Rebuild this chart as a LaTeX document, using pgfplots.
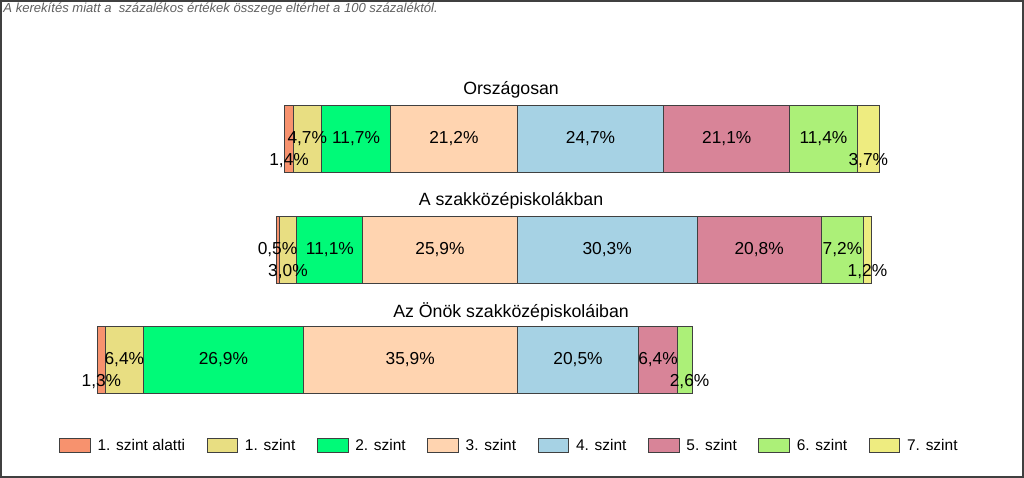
\documentclass[border=0pt]{standalone}
\usepackage{fontspec}
\setmainfont{Liberation Sans}
\usepackage{pgfplots}
\pgfplotsset{compat=1.18}

\definecolor{sz0}{RGB}{247,146,110}
\definecolor{sz1}{RGB}{232,222,130}
\definecolor{sz2}{RGB}{0,250,120}
\definecolor{sz3}{RGB}{255,212,176}
\definecolor{sz4}{RGB}{166,210,228}
\definecolor{sz5}{RGB}{216,132,152}
\definecolor{sz6}{RGB}{172,240,120}
\definecolor{sz7}{RGB}{238,236,128}
\definecolor{edge}{RGB}{64,64,64}
\definecolor{note}{RGB}{96,96,96}

% label positions (segment centres); the 3./4. szint border sits at x=80
\pgfplotstableread{
x y label
44.75 339 4,7
52.95 339 11,7
69.4 339 21,2
92.35 339 24,7
115.25 339 21,1
131.5 339 11,4
39.75 228 0,5
48.55 228 11,1
67.05 228 25,9
95.15 228 30,3
120.7 228 20,8
134.7 228 7,2
14.0 118 6,4
30.65 118 26,9
62.05 118 35,9
90.25 118 20,5
103.7 118 6,4
}\midlabels
\pgfplotstableread{
x y label
41.7 317 1,4
139.05 317 3,7
41.5 206 3,0
138.9 206 1,2
10.15 96 1,3
109.0 96 2,6
}\lowlabels

\pgfplotsset{
  base/.style={
    at={(0,0)}, anchor=south west,
    scale only axis, width=768pt, height=358.5pt,
    xmin=-6.89, xmax=165.21, ymin=0, ymax=478,
    hide axis, clip=false,
  },
}

\begin{document}
\begin{tikzpicture}[x=1pt,y=1pt]
\useasboundingbox (0,0) rectangle (768,358.5);
\begin{axis}[
  base,
  xbar stacked, bar width=50.25pt,
  every axis plot/.append style={draw=edge, line width=0.75pt},
]
% invisible offset: 80 minus the share below 4. szint
\addplot[draw=none, fill=none] coordinates {(41.0,339) (39.5,228) (9.5,118)};
\addplot[fill=sz0] coordinates {(1.4,339) (0.5,228) (1.3,118)};
\addplot[fill=sz1] coordinates {(4.7,339) (3.0,228) (6.4,118)};
\addplot[fill=sz2] coordinates {(11.7,339) (11.1,228) (26.9,118)};
\addplot[fill=sz3] coordinates {(21.2,339) (25.9,228) (35.9,118)};
\addplot[fill=sz4] coordinates {(24.7,339) (30.3,228) (20.5,118)};
\addplot[fill=sz5] coordinates {(21.1,339) (20.8,228) (6.4,118)};
\addplot[fill=sz6] coordinates {(11.4,339) (7.2,228) (2.6,118)};
\addplot[fill=sz7] coordinates {(3.7,339) (1.2,228) (0,118)};
\end{axis}

\begin{axis}[base,
  nodes near coords={\pgfplotspointmeta\%},
  point meta=explicit symbolic,
  every node near coord/.style={anchor=center, inner sep=0pt, font=\fontsize{13}{15}\selectfont},
  legend columns=8,
  legend cell align=left,
  legend style={draw=none, fill=none, inner xsep=0pt,
    at={(axis cs:3.03,32.5)}, anchor=west,
    font=\fontsize{11.6}{13}\selectfont,
    /tikz/every odd column/.append style={column sep=3pt},
    /tikz/every even column/.append style={column sep=14.2pt}},
  legend image code/.code={\draw[#1, draw=edge, line width=0.75pt] (0pt,-5.6pt) rectangle (23pt,5.6pt);},
]
\addplot[only marks, mark=none, forget plot] table[x=x, y=y, meta=label] {\midlabels};
\addplot[only marks, mark=none, forget plot] table[x=x, y=y, meta=label] {\lowlabels};
\addlegendimage{fill=sz0}\addlegendentry{1. szint alatti}
\addlegendimage{fill=sz1}\addlegendentry{1. szint}
\addlegendimage{fill=sz2}\addlegendentry{2. szint}
\addlegendimage{fill=sz3}\addlegendentry{3. szint}
\addlegendimage{fill=sz4}\addlegendentry{4. szint}
\addlegendimage{fill=sz5}\addlegendentry{5. szint}
\addlegendimage{fill=sz6}\addlegendentry{6. szint}
\addlegendimage{fill=sz7}\addlegendentry{7. szint}
\node[font=\fontsize{13.3}{15}\selectfont] at (axis cs:79,388) {Országosan};
\node[font=\fontsize{13.3}{15}\selectfont] at (axis cs:79,277) {A szakközépiskolákban};
\node[font=\fontsize{13.3}{15}\selectfont] at (axis cs:79,166) {Az Önök szakközépiskoláiban};
\end{axis}

\node[anchor=base west, inner sep=0pt, text=note, font=\fontsize{9.8}{11}\itshape]
  at (2.4,348.8) {A kerekítés miatt a \ százalékos értékek összege eltérhet a 100 százaléktól.};
\draw[edge, line width=1.5pt] (0.9,0.9) rectangle (767.1,357.6);
\end{tikzpicture}
\end{document}
